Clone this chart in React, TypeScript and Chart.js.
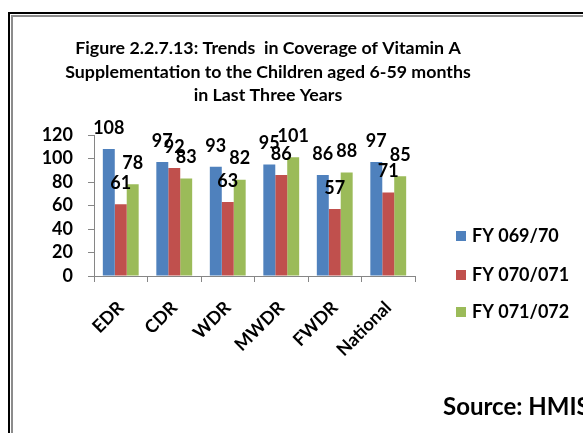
import React, { useEffect, useRef } from "react";
import { Chart, registerables } from "chart.js";

Chart.register(...registerables);

const categories = ["EDR", "CDR", "WDR", "MWDR", "FWDR", "National"];
const seriesLabels = ["FY 069/70", "FY 070/071", "FY 071/072"];
const fy069_70 = [108, 97, 93, 95, 86, 97];
const fy070_071 = [61, 92, 63, 86, 57, 71];
const fy071_072 = [78, 83, 82, 101, 88, 85];
const yMin = 0;
const yMax = 120;
const yStep = 20;
const titleLines = [
  "Figure 2.2.7.13: Trends  in Coverage of Vitamin A",
  "Supplementation to the Children aged 6-59 months",
  "in Last Three Years",
];
const sourceText = "Source: HMIS";
const seriesColors = ["#4F81BD", "#C0504D", "#9BBB59"];

const FONT = "Lato";
const W = 583;
const H = 433;

const decorPlugin = {
  id: "decor",
  beforeDraw(chart: any) {
    const ctx = chart.ctx;
    ctx.save();
    ctx.fillStyle = "#ffffff";
    ctx.fillRect(0, 0, chart.width, chart.height);
    // double frame
    ctx.fillStyle = "#000000";
    ctx.fillRect(8, 12, chart.width, 2);
    ctx.fillRect(8, 12, 2, chart.height);
    ctx.fillStyle = "#8c8c8c";
    ctx.fillRect(11, 15, chart.width, 2);
    ctx.fillRect(11, 15, 2, chart.height);
    ctx.restore();
  },
  afterDraw(chart: any) {
    const ctx = chart.ctx;
    ctx.save();
    ctx.fillStyle = "#000000";
    // title
    ctx.font = `bold 17.8px ${FONT}`;
    ctx.textAlign = "center";
    ctx.textBaseline = "middle";
    const titleY = [48, 72, 95];
    titleLines.forEach((line, i) => ctx.fillText(line, 268, titleY[i]));

    // data labels
    ctx.font = `bold 18px ${FONT}`;
    chart.data.datasets.forEach((ds: any, i: number) => {
      const meta = chart.getDatasetMeta(i);
      meta.data.forEach((bar: any, j: number) => {
        ctx.fillText(String(ds.data[j]), bar.x, bar.y - 21);
      });
    });

    // legend
    ctx.font = `bold 18px ${FONT}`;
    ctx.textAlign = "left";
    const legY = [236, 275, 312];
    chart.data.datasets.forEach((ds: any, i: number) => {
      ctx.fillStyle = ds.backgroundColor;
      ctx.fillRect(456, legY[i] - 5, 10, 10);
      ctx.fillStyle = "#000000";
      ctx.fillText(ds.label, 472, legY[i]);
    });

    // source
    ctx.font = `bold 24px ${FONT}`;
    ctx.fillText(sourceText, 443, 407);
    ctx.restore();
  },
};

export default function App() {
  const ref = useRef<HTMLCanvasElement>(null);
  useEffect(() => {
    if (!ref.current) return;
    const seriesData = [fy069_70, fy070_071, fy071_072];
    const chart = new Chart(ref.current, {
      type: "bar",
      data: {
        labels: categories,
        datasets: seriesData.map((d, i) => ({
          label: seriesLabels[i],
          data: d,
          backgroundColor: seriesColors[i],
          borderWidth: 0,
          categoryPercentage: 0.67,
          barPercentage: 1.0,
        })),
      },
      options: {
        responsive: false,
        animation: false,
        events: [],
        layout: { padding: { left: 0, top: 135, right: 168, bottom: 0 } },
        plugins: {
          legend: { display: false },
          title: { display: false },
          tooltip: { enabled: false },
        },
        scales: {
          x: {
            ticks: {
              minRotation: 45,
              maxRotation: 45,
              autoSkip: false,
              color: "#000",
              font: { family: FONT, size: 18, weight: "bold" },
              padding: 15,
            },
            grid: {
              offset: true,
              drawOnChartArea: false,
              drawTicks: true,
              tickLength: 6,
              color: "#868686",
            },
            border: { color: "#868686", width: 1 },
            afterFit(s: any) {
              s.height = H - 276;
            },
          },
          y: {
            min: yMin,
            max: yMax,
            ticks: {
              stepSize: yStep,
              autoSkip: false,
              color: "#000",
              font: { family: FONT, size: 18, weight: "bold" },
              padding: 15,
            },
            grid: {
              drawOnChartArea: false,
              drawTicks: true,
              tickLength: 6,
              color: "#868686",
            },
            border: { color: "#868686", width: 1 },
            afterFit(s: any) {
              s.width = 94;
            },
          },
        },
      },
      plugins: [decorPlugin],
    });
    return () => chart.destroy();
  }, []);
  return (
    <div style={{ position: "absolute", left: 0, top: 0, width: W, height: H, overflow: "hidden", background: "#fff" }}>
      <canvas ref={ref} width={W} height={H} style={{ display: "block", width: W, height: H }} />
    </div>
  );
}
